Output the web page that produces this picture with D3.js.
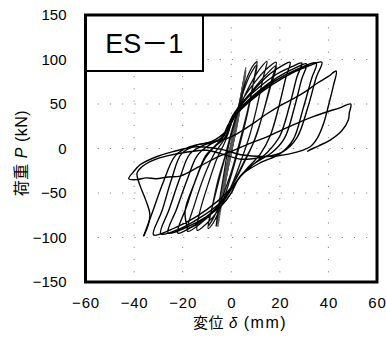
<!DOCTYPE html>
<html>
<head>
<meta charset="utf-8">
<script src="https://cdn.jsdelivr.net/npm/d3@7"></script>
<style>
  html, body { margin: 0; padding: 0; background: #fff; }
  svg { display: block; }
  text { font-family: "Liberation Sans", Arial, "Noto Sans CJK JP", sans-serif; fill: #000; }
</style>
</head>
<body>
<svg id="chart" width="386" height="348"></svg>
<script>
// Axis ticks
const xTicks = [-60, -40, -20, 0, 20, 40, 60];
const yTicks = [-150, -100, -50, 0, 50, 100, 150];
const specimen = "ES－1";

// Load–displacement record [δ (mm), P (kN)], split by loading stage
const smallCycles = [
  [0,0],[0.8,12],[1.5,25],
  [1.0,12],[0.2,-2],[-0.8,-14],[-1.5,-25],
  [-1.0,-10],[-0.2,4],[1.2,22],[2.2,36],[3,48],
  [2.3,30],[1.0,8],[-0.5,-12],[-1.8,-30],[-3,-48],
  [-2.2,-28],[-0.8,-6],[0.8,16],[2,32],[3,45],
  [2.2,27],[0.6,4],[-1,-16],[-2,-32],[-3,-45],
  [-2,-24],[-0.5,-2],[1.5,22],[3,44],[4.2,62],[5,75],
  [4,52],[2.2,22],[0,-4],[-1.8,-28],[-3.5,-52],[-5,-75],
  [-3.8,-48],[-1.8,-18],[0.5,12],[2.5,38],[4,58],[5,72],
  [3.8,46],[1.5,14],[-0.8,-14],[-2.5,-38],[-4,-58],[-5,-72],
  [-3.2,-40],[-1.6,-14],[0.2,8],[2.2,34],[3.6,54],[4.6,70],
  [3.2,42],[1.2,12],[-1.2,-18],[-3,-44],[-4.2,-62],[-4.8,-70],
  [-3.6,-44],[-1.2,-10],[1.5,24],[3.5,52],[4.8,72],[5.5,85],[6,91],
  [5,70],[3,38],[0.8,6],[-1.5,-26],[-3.2,-52],[-4.5,-72],[-5.2,-84],[-5.5,-88],
  [-4.5,-62],[-2.5,-30],[0,6],[2.5,40],[4.2,64],[5.4,82],[6,88],
  [4.8,62],[2.5,28],[0.2,-4],[-2.2,-34],[-4,-60],[-5.3,-78],[-6,-86],
  [-5,-66],[-3,-36],[-0.6,0],[2,34],[3.8,58],[5.2,78],[5.8,86],
  [4.4,58],[2,22],[-0.4,-10],[-2.8,-40],[-4.4,-64],[-5.6,-80],[-6.2,-87]
];

const midCycles = [
  [-4.8,-58],[-3,-28],[-1,4],[1.5,30],[3.5,52],[5.5,72],[7.5,86],[9.5,95],[10.6,98],
  [9.5,80],[7.5,50],[5,20],[2.5,-6],[0,-30],[-2.5,-52],[-5,-70],[-7.5,-84],[-9.5,-90],
  [-8,-68],[-5.5,-36],[-2.5,-8],[0,18],[2.5,42],[5,64],[8,84],[10.6,94],
  [9,72],[6.5,40],[3.5,8],[0.5,-22],[-2.5,-46],[-5.5,-68],[-9.5,-87],
  [-7.5,-62],[-4.5,-30],[-2,-4],[0.5,22],[3,42],[6,62],[9.5,80],[12.5,92],[14.7,98],
  [13,78],[10.5,46],[7.5,14],[4,-14],[1,-36],[-2,-54],[-5.5,-70],[-10,-84],[-14,-92],
  [-13,-72],[-9.5,-40],[-6,-12],[-2.5,8],[0.5,32],[4,52],[9,72],[14,88],[18.5,97],
  [16.5,76],[13.5,44],[10,12],[6,-12],[2,-34],[-2,-52],[-7,-70],[-12.5,-84],[-18,-93],
  [-15,-62],[-11,-30],[-7,-6],[-3,10],[0,30],[4,48],[9,66],[14,82],[18.5,93],
  [16,68],[12.5,34],[9,6],[5,-16],[1,-38],[-3,-56],[-8,-72],[-13,-84],[-18,-90]
];

const largeCycles = [
  [-19,-70],[-15,-38],[-11,-12],[-7,2],[-3,14],[0,34],[4,50],[10,68],[16,84],[21,93],[24.2,97],
  [22.5,80],[19.5,46],[16,14],[12,-6],[6,-24],[1,-42],[-3,-58],[-9,-74],[-15,-86],[-22,-95],
  [-18.5,-66],[-14.5,-34],[-10.5,-8],[-6,4],[-2,14],[0.5,32],[5,52],[12,70],[19,84],[25,92],[29,96],
  [27,80],[24,48],[20,14],[15,-4],[9,-18],[3,-34],[0,-50],[-4,-64],[-11,-78],[-18,-88],[-26,-95],
  [-22.5,-68],[-18,-34],[-14,-8],[-9,4],[-4,12],[-1,28],[4,46],[11,64],[19,80],[26,90],[31,95],
  [29,78],[26,46],[22,12],[17,-4],[10,-16],[4,-30],[0,-46],[-5,-62],[-13,-78],[-21,-90],[-29,-96],
  [-25.5,-68],[-21,-32],[-17,-6],[-11,4],[-5,10],[-1,24],[3,42],[10,60],[18,76],[27,89],[35,96],
  [33,78],[29.5,44],[25.5,10],[20,-6],[12,-16],[5,-28],[0,-44],[-6,-60],[-14,-76],[-23,-89],[-32,-97],
  [-28.5,-70],[-24.5,-34],[-20.5,-6],[-14,4],[-8,8],[-2,20],[2,38],[9,56],[17,72],[26,86],[32,93],[37.3,97],
  [35,80],[31.5,46],[27,12],[21,-4],[12,-10],[4,-12],[-4,-6],[-10,-2],[-18,-4],[-26,-8],[-32,-13],[-37,-21],
  [-38.8,-28],[-37.5,-42],[-35.2,-58],[-33.5,-74],[-34.2,-86],[-36,-98]
];

const finalCycles = [
  [-32.5,-72],[-28,-38],[-23,-8],[-17,2],[-10,6],[-3,10],[2,16],[5,21],[10,30],[14.7,39],[20,48],
  [25.6,56],[30,63],[35.2,73],[40,81],[43.2,87],
  [42,70],[40,48],[38,28],[35.5,12],[32.5,2],[24,-6],[14,-9],[4,-7],[-4,-1],[-14,2],
  [-24,-3.5],[-30.5,-9],[-37.4,-18],[-40.2,-26],[-42.2,-34],
  [-39,-35],[-35,-33],[-31,-34],[-26,-32],[-21,-31],[-13,-20],[-6,-10],[1,-2],[8,6],[14.7,13],
  [21,21],[28.4,30],[34,36],[39.3,41],[45,46],[49.2,50],
  [48.6,40],[48.2,32],[45.5,20],[40.7,9.5],[36,3],[32,-2],[31.5,-3]
];

const W = 386, H = 348;
const plot = { left: 85.5, right: 377, top: 15, bottom: 282 };

const svg = d3.select("#chart");

const x = d3.scaleLinear().domain([-60, 60]).range([plot.left, plot.right]);
const y = d3.scaleLinear().domain([-150, 150]).range([plot.bottom, plot.top]);

// Sparse dotted grid
const grid = svg.append("g").attr("stroke", "#8a8a8a").attr("stroke-width", 1)
  .attr("stroke-dasharray", "1.2,11");
grid.selectAll("line.vx").data(xTicks.slice(1, -1)).join("line")
  .attr("x1", d => x(d)).attr("x2", d => x(d))
  .attr("y1", plot.top).attr("y2", plot.bottom);
grid.selectAll("line.hy").data(yTicks.slice(1, -1)).join("line")
  .attr("x1", plot.left).attr("x2", plot.right)
  .attr("y1", d => y(d)).attr("y2", d => y(d));

// Hysteresis curve
const line = d3.line()
  .x(d => x(d[0])).y(d => y(d[1]))
  .curve(d3.curveCatmullRom.alpha(0.5));

const stages = [
  { pts: smallCycles, color: "#555", width: 1.0 },
  { pts: midCycles, color: "#111", width: 1.3 },
  { pts: largeCycles, color: "#000", width: 1.4 },
  { pts: finalCycles, color: "#000", width: 1.4 }
];
// join consecutive stages so the trace is continuous
stages.forEach((s, i) => {
  const prev = i > 0 ? [stages[i - 1].pts[stages[i - 1].pts.length - 1]] : [];
  svg.append("path")
    .attr("d", line(prev.concat(s.pts)))
    .attr("fill", "none")
    .attr("stroke", s.color)
    .attr("stroke-width", s.width)
    .attr("stroke-linejoin", "round")
    .attr("stroke-linecap", "round");
});

// Specimen label box
svg.append("rect")
  .attr("x", plot.left).attr("y", plot.top)
  .attr("width", 203 - plot.left).attr("height", 71 - plot.top)
  .attr("fill", "#fff").attr("stroke", "#000").attr("stroke-width", 2);
svg.append("text")
  .attr("x", (plot.left + 203) / 2).attr("y", 53)
  .attr("text-anchor", "middle")
  .style("font-size", "27px")
  .text(specimen);

// Plot frame
svg.append("rect")
  .attr("x", plot.left).attr("y", plot.top)
  .attr("width", plot.right - plot.left).attr("height", plot.bottom - plot.top)
  .attr("fill", "none").attr("stroke", "#000").attr("stroke-width", 3);

// Axes (labels only; the frame carries the lines)
const yAxis = svg.append("g")
  .attr("transform", `translate(${plot.left},0)`)
  .call(d3.axisLeft(y).tickValues(yTicks).tickSize(0).tickPadding(19).tickFormat(d3.format("d")));
const xAxis = svg.append("g")
  .attr("transform", `translate(0,${plot.bottom})`)
  .call(d3.axisBottom(x).tickValues(xTicks).tickSize(0).tickPadding(15).tickFormat(d3.format("d")));
[yAxis, xAxis].forEach(g => {
  g.select(".domain").remove();
  g.selectAll("text")
    .style("font-size", "15px")
    .style("font-family", '"Liberation Sans", Arial, sans-serif')
    .attr("fill", "#000");
});
xAxis.selectAll("text").style("letter-spacing", "0.8px");

// Axis titles
const yTitle = svg.append("text")
  .attr("transform", "translate(27,153) rotate(-90)")
  .attr("text-anchor", "middle")
  .style("font-size", "16px")
  .style("letter-spacing", "0.5px");
yTitle.append("tspan").text("荷重 ");
yTitle.append("tspan").style("font-style", "italic").text("P");
yTitle.append("tspan").text(" (kN)");

const xTitle = svg.append("text")
  .attr("x", 240).attr("y", 328)
  .attr("text-anchor", "middle")
  .style("font-size", "15px")
  .style("letter-spacing", "0.6px");
xTitle.append("tspan").text("変位 ");
xTitle.append("tspan").style("font-style", "italic").text("δ");
xTitle.append("tspan").style("font-size", "16px").style("letter-spacing", "1.5px").text(" (mm)");
</script>
</body>
</html>
